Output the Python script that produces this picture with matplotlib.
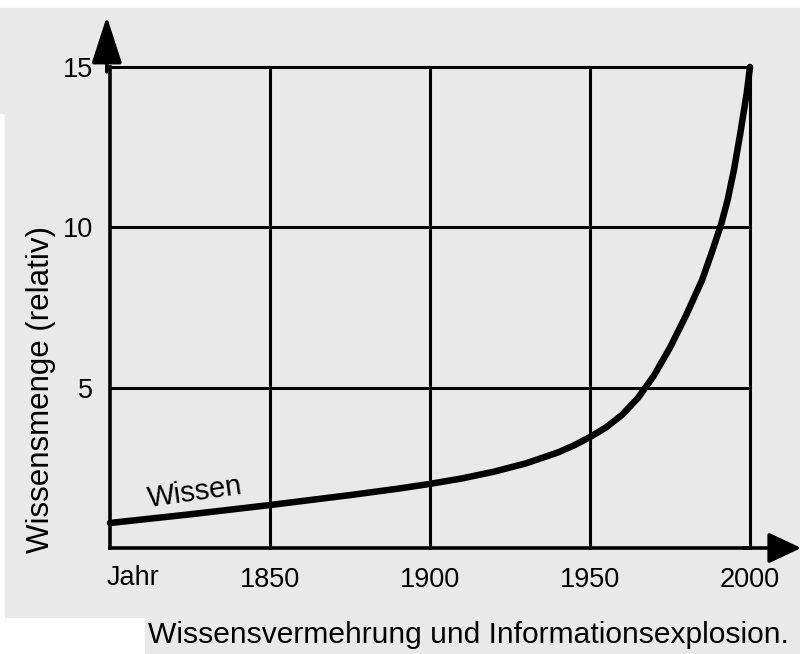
import matplotlib
matplotlib.use('Agg')
import matplotlib.pyplot as plt
from matplotlib.patches import Rectangle

# values
years = [1800, 1825, 1850, 1875, 1890, 1900, 1910, 1920, 1930, 1940, 1945,
         1950, 1955, 1960, 1965, 1970, 1975, 1980, 1985, 1988, 1991, 1993,
         1995, 1997, 1999, 2000]
wissen = [0.78, 1.05, 1.34, 1.65, 1.85, 2.0, 2.17, 2.38, 2.64, 2.98, 3.2,
          3.46, 3.76, 4.15, 4.68, 5.38, 6.25, 7.25, 8.35, 9.2, 10.1, 10.85,
          11.8, 12.95, 14.2, 15.0]
x_ticks = [1850, 1900, 1950, 2000]
x_labels = ['1850', '1900', '1950', '2000']
y_ticks = [5, 10, 15]
y_labels = ['5', '10', '15']

plt.rcParams['font.family'] = ['Liberation Sans', 'DejaVu Sans']

W, H = 800, 654
fig = plt.figure(figsize=(8, 6.54), dpi=100, facecolor='white')

# grey scan background (with the white scan borders)
bg = '#e9e9e9'
for x0, y0, x1, y1 in [(5, 8, 800, 617), (145, 617, 800, 654), (0, 8, 5, 113)]:
    fig.patches.append(Rectangle((x0 / W, 1 - y1 / H), (x1 - x0) / W, (y1 - y0) / H,
                                 transform=fig.transFigure, color=bg, zorder=-10))

ax = fig.add_axes([110 / W, 1 - 548 / H, 640 / W, 481 / H])
ax.set_facecolor('none')
ax.set_xlim(1800, 2000)
ax.set_ylim(0, 15)

for s in ['top', 'right']:
    ax.spines[s].set_visible(False)
for s in ['left', 'bottom']:
    ax.spines[s].set_linewidth(2.6)

# grid lines
for x in x_ticks:
    ax.axvline(x, color='black', lw=2.2, clip_on=False, zorder=1)
for y in y_ticks:
    ax.axhline(y, color='black', lw=2.2, clip_on=False, zorder=1)

ax.set_xticks(x_ticks, x_labels)
ax.set_yticks(y_ticks, y_labels)
ax.tick_params(length=0, labelsize=19.5)
ax.tick_params(axis='x', pad=14)
ax.tick_params(axis='y', pad=12)

# knowledge curve
ax.plot(years, wissen, color='black', lw=4.7, solid_capstyle='round',
        solid_joinstyle='round', clip_on=False, zorder=3)
ax.text(1826.5, 1.72, 'Wissen', fontsize=21, rotation=8, ha='center', va='center')

# axis arrows
ax.annotate('', xy=(-0.005, 1.105), xytext=(-0.005, 0.99), xycoords='axes fraction',
            arrowprops=dict(arrowstyle='-|>,head_length=1.45,head_width=0.47',
                            color='black', lw=2.6, mutation_scale=20,
                            shrinkA=0, shrinkB=0))
ax.annotate('', xy=(1.08, 0.0), xytext=(0.99, 0.0), xycoords='axes fraction',
            arrowprops=dict(arrowstyle='-|>,head_length=1.0,head_width=0.47',
                            color='black', lw=2.6, mutation_scale=20,
                            shrinkA=0, shrinkB=0))

ax.text(-0.005, -0.062, 'Jahr', transform=ax.transAxes, fontsize=19.5,
        ha='left', va='center')
ax.set_ylabel('Wissensmenge (relativ)', fontsize=22.5)
ax.yaxis.set_label_coords(-0.084, 0.33)

fig.text(148 / W, 1 - 635 / H, 'Wissensvermehrung und Informationsexplosion.',
         fontsize=21.6, ha='left', va='center')

fig.savefig('out.png', dpi=100, facecolor=fig.get_facecolor())
